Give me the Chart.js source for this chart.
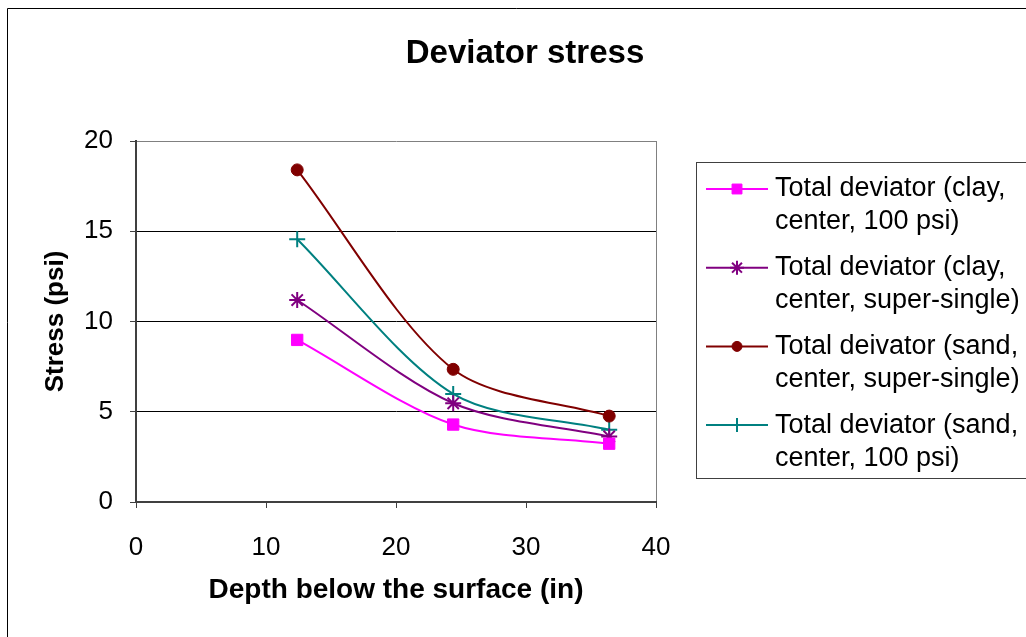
<!DOCTYPE html>
<html>
<head>
<meta charset="utf-8">
<title>Deviator stress</title>
<script src="https://cdn.jsdelivr.net/npm/chart.js@4.4.0/dist/chart.umd.min.js"></script>
<style>
  html, body { margin: 0; padding: 0; background: #fff; }
  #wrap { position: relative; width: 1026px; height: 637px; }
</style>
</head>
<body>
<div id="wrap"><canvas id="stressChart" width="1026" height="637"></canvas></div>
<script>
// depth below the surface (in)
const depths = [12.4, 24.4, 36.4];

// stress values (psi)
const clayCenter100 = [8.98, 4.29, 3.23];
const clayCenterSuper = [11.19, 5.47, 3.63];
const sandCenterSuper = [18.40, 7.35, 4.76];
const sandCenter100 = [14.56, 5.99, 4.00];

const seriesNames = [
    'Total deviator (clay, center, 100 psi)',
    'Total deviator (clay, center, super-single)',
    'Total deivator (sand, center, super-single)',
    'Total deviator (sand, center, 100 psi)'
];
// legend text wraps onto two lines like the original
const legendLines = [
    ['Total deviator (clay,', 'center, 100 psi)'],
    ['Total deviator (clay,', 'center, super-single)'],
    ['Total deivator (sand,', 'center, super-single)'],
    ['Total deviator (sand,', 'center, 100 psi)']
];
const xTicks = [0, 10, 20, 30, 40];
const yTicks = [0, 5, 10, 15, 20];

const FONT = '"Liberation Sans", Arial, sans-serif';

const toPoints = (vals) => vals.map((v, i) => ({ x: depths[i], y: v }));

const makeSeries = (i, vals, color, style, radius) => ({
    label: seriesNames[i],
    data: toPoints(vals),
    borderColor: color,
    backgroundColor: color,
    pointBackgroundColor: color,
    pointBorderColor: color,
    pointStyle: style,
    pointRadius: radius,
    pointBorderWidth: (style === 'star' || style === 'cross') ? 2 : 1,
    borderWidth: 2,
    tension: 0.3,
    fill: false
});

// frame, title and the two-line legend on the right
const extrasPlugin = {
    id: 'extras',
    afterDraw(chart) {
        const ctx = chart.ctx;
        ctx.save();

        // outer frame (only top and left edges are visible)
        ctx.strokeStyle = '#000';
        ctx.lineWidth = 1;
        ctx.beginPath();
        ctx.moveTo(7.5, 637);
        ctx.lineTo(7.5, 8.5);
        ctx.lineTo(1026, 8.5);
        ctx.stroke();

        // title
        ctx.fillStyle = '#000';
        ctx.font = 'bold 33px ' + FONT;
        ctx.textAlign = 'center';
        ctx.textBaseline = 'middle';
        ctx.fillText('Deviator stress', 525, 54);

        // legend box
        ctx.strokeStyle = '#404040';
        ctx.lineWidth = 1;
        ctx.strokeRect(696.5, 162.5, 340, 316);

        chart.data.datasets.forEach((ds, i) => {
            const y = 189 + i * 78.7;
            ctx.strokeStyle = ds.borderColor;
            ctx.lineWidth = 2;
            ctx.beginPath();
            ctx.moveTo(706, y);
            ctx.lineTo(768, y);
            ctx.stroke();

            ctx.fillStyle = ds.pointBackgroundColor;
            ctx.strokeStyle = ds.pointBorderColor;
            ctx.lineWidth = ds.pointBorderWidth;
            Chart.helpers.drawPoint(ctx, {
                pointStyle: ds.pointStyle,
                radius: ds.pointRadius - 1,
                rotation: 0,
                borderWidth: ds.pointBorderWidth
            }, 737, y);

            ctx.fillStyle = '#000';
            ctx.font = '27px ' + FONT;
            ctx.textAlign = 'left';
            ctx.textBaseline = 'middle';
            legendLines[i].forEach((t, k) => ctx.fillText(t, 775, y + k * 33));
        });

        ctx.restore();
    }
};

const ctx = document.getElementById('stressChart').getContext('2d');
new Chart(ctx, {
    type: 'line',
    data: {
        datasets: [
            makeSeries(0, clayCenter100, '#FF00FF', 'rect', 8),
            makeSeries(1, clayCenterSuper, '#800080', 'star', 8),
            makeSeries(2, sandCenterSuper, '#800000', 'circle', 6),
            makeSeries(3, sandCenter100, '#008080', 'cross', 8)
        ]
    },
    options: {
        responsive: false,
        animation: false,
        devicePixelRatio: 1,
        layout: { padding: { top: 141, right: 370, bottom: 0, left: 0 } },
        plugins: {
            legend: { display: false },
            title: { display: false },
            tooltip: { enabled: false }
        },
        scales: {
            x: {
                type: 'linear',
                min: 0,
                max: 40,
                afterBuildTicks: (scale) => { scale.ticks = xTicks.map(v => ({ value: v })); },
                afterFit: (scale) => { scale.height = 135; },
                ticks: {
                    color: '#000',
                    padding: 24,
                    font: { family: FONT, size: 26 }
                },
                grid: {
                    color: (c) => c.tick && c.tick.value === 40 ? '#808080' : 'rgba(0,0,0,0)',
                    tickColor: '#404040',
                    tickLength: 6,
                    lineWidth: 1
                },
                border: { color: '#404040', width: 2 },
                title: {
                    display: true,
                    text: 'Depth below the surface (in)',
                    color: '#000',
                    font: { family: FONT, size: 28, weight: 'bold' },
                    padding: { top: 0, bottom: 30 }
                }
            },
            y: {
                min: 0,
                max: 20,
                afterBuildTicks: (scale) => { scale.ticks = yTicks.map(v => ({ value: v })); },
                afterFit: (scale) => { scale.width = 136; },
                ticks: {
                    color: '#000',
                    padding: 17,
                    font: { family: FONT, size: 26 }
                },
                grid: {
                    color: (c) => c.tick && c.tick.value === 20 ? '#808080' : '#000',
                    tickColor: '#404040',
                    tickLength: 6,
                    lineWidth: 1
                },
                border: { color: '#404040', width: 2 },
                title: {
                    display: true,
                    text: 'Stress (psi)',
                    color: '#000',
                    font: { family: FONT, size: 26, weight: 'bold' },
                    padding: { top: 40, bottom: 0 }
                }
            }
        }
    },
    plugins: [extrasPlugin]
});
</script>
</body>
</html>
